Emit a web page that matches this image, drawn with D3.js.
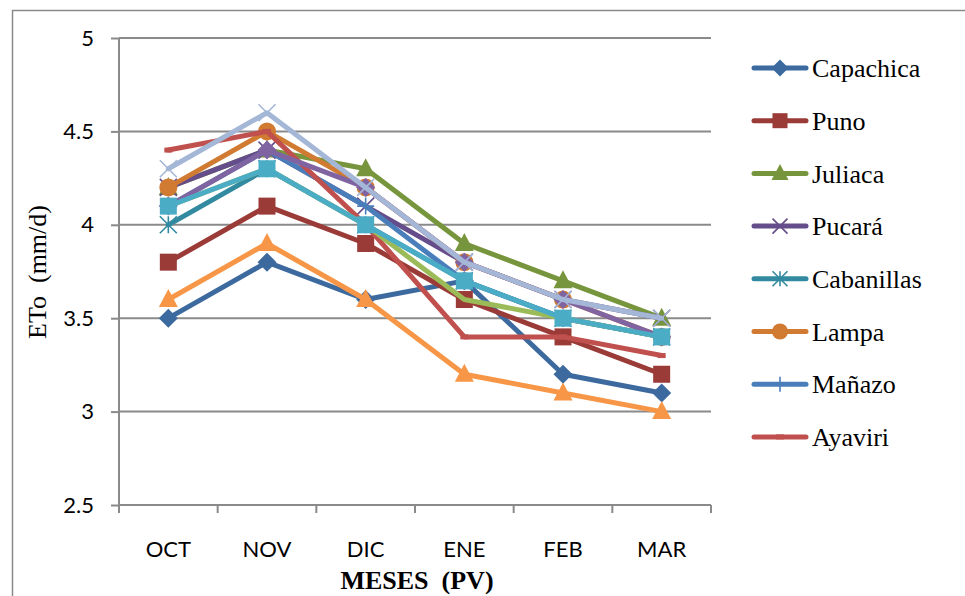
<!DOCTYPE html>
<html>
<head>
<meta charset="utf-8">
<script src="https://cdn.jsdelivr.net/npm/d3@7"></script>
<style>
  body { margin: 0; background: #fff; }
  svg { display: block; }
</style>
</head>
<body>
<script>
// DATA
var meses = ["OCT", "NOV", "DIC", "ENE", "FEB", "MAR"];
var yTicks = [2.5, 3, 3.5, 4, 4.5, 5];

var capachica  = [3.5, 3.8, 3.6, 3.7, 3.2, 3.1];
var puno       = [3.8, 4.1, 3.9, 3.6, 3.4, 3.2];
var juliaca    = [4.2, 4.4, 4.3, 3.9, 3.7, 3.5];
var pucara     = [4.2, 4.4, 4.1, 3.8, 3.6, 3.5];
var cabanillas = [4.0, 4.3, 4.0, 3.7, 3.5, 3.4];
var lampa      = [4.2, 4.5, 4.2, 3.8, 3.6, 3.4];
var manazo     = [4.1, 4.4, 4.1, 3.7, 3.5, 3.4];
var ayaviri    = [4.4, 4.5, 4.0, 3.4, 3.4, 3.3];
// series beyond the visible legend
var serie9     = [4.1, 4.3, 4.0, 3.6, 3.5, 3.4];
var serie10    = [4.1, 4.4, 4.2, 3.8, 3.6, 3.4];
var serie11    = [4.1, 4.3, 4.0, 3.7, 3.5, 3.4];
var serie12    = [3.6, 3.9, 3.6, 3.2, 3.1, 3.0];
var serie13    = [4.3, 4.6, 4.2, 3.8, 3.6, 3.5];

var series = [
  { name: "Capachica",  values: capachica,  color: "#3D6A9E", marker: "diamond",  legend: true },
  { name: "Puno",       values: puno,       color: "#9B3B38", marker: "square",   legend: true },
  { name: "Juliaca",    values: juliaca,    color: "#77953D", marker: "triangle", legend: true },
  { name: "Pucará",     values: pucara,     color: "#654C8A", marker: "x",        legend: true },
  { name: "Cabanillas", values: cabanillas, color: "#328AA0", marker: "star",     legend: true },
  { name: "Lampa",      values: lampa,      color: "#D07A32", marker: "circle",   legend: true },
  { name: "Mañazo",     values: manazo,     color: "#4A7EBB", marker: "plus",     legend: true },
  { name: "Ayaviri",    values: ayaviri,    color: "#C0504D", marker: "dash",     legend: true },
  { name: "Serie 9",    values: serie9,     color: "#9BBB59", marker: "none",     legend: false },
  { name: "Serie 10",   values: serie10,    color: "#8064A2", marker: "diamond",  legend: false },
  { name: "Serie 11",   values: serie11,    color: "#4BACC6", marker: "square",   legend: false },
  { name: "Serie 12",   values: serie12,    color: "#F79646", marker: "triangle", legend: false },
  { name: "Serie 13",   values: serie13,    color: "#A5B7D7", marker: "x",        legend: false }
];

// LAYOUT
var W = 965, H = 596;
var plot = { left: 119, right: 711, top: 38, bottom: 505 };
var gridColor = "#8a8a8a";
var sansFont = "Lato, 'Liberation Sans', sans-serif";
var serifFont = "'Liberation Serif', 'Times New Roman', serif";

var svg = d3.select("body").append("svg")
  .attr("width", W)
  .attr("height", H);

svg.append("rect")
  .attr("width", W).attr("height", H)
  .attr("fill", "#fff");

// outer chart border (cut off at right and bottom)
svg.append("rect")
  .attr("x", 12.5).attr("y", 10.5)
  .attr("width", W + 20).attr("height", H + 20)
  .attr("fill", "none")
  .attr("stroke", gridColor)
  .attr("stroke-width", 1.5);

var x = d3.scaleBand()
  .domain(meses)
  .range([plot.left, plot.right]);

var y = d3.scaleLinear()
  .domain([2.5, 5])
  .range([plot.bottom, plot.top]);

function cx(i) { return x(meses[i]) + x.bandwidth() / 2; }

// gridlines
svg.append("g")
  .selectAll("line")
  .data(yTicks.slice(1))
  .enter().append("line")
  .attr("x1", plot.left).attr("x2", plot.right)
  .attr("y1", function (d) { return y(d); })
  .attr("y2", function (d) { return y(d); })
  .attr("stroke", gridColor)
  .attr("stroke-width", 2);

// y axis
var yAxis = svg.append("g")
  .attr("transform", "translate(" + plot.left + ",0)")
  .call(d3.axisLeft(y).tickValues(yTicks).tickSize(8).tickPadding(17)
    .tickFormat(function (d) { return d; }));
yAxis.selectAll("path, line").attr("stroke", gridColor).attr("stroke-width", 2);
yAxis.select("path").attr("d", "M0," + plot.top + "V" + plot.bottom);
yAxis.selectAll("text")
  .attr("fill", "#000")
  .style("font-family", sansFont)
  .style("font-size", "22px");

// x axis
var xAxis = svg.append("g")
  .attr("transform", "translate(0," + plot.bottom + ")")
  .call(d3.axisBottom(x).tickSize(0).tickPadding(36));
xAxis.select("path").attr("d", "M" + plot.left + ",0H" + plot.right)
  .attr("stroke", gridColor).attr("stroke-width", 2);
xAxis.selectAll("text")
  .attr("fill", "#000")
  .style("font-family", sansFont)
  .style("font-size", "22px");
xAxis.selectAll(".boundary")
  .data(d3.range(meses.length + 1))
  .enter().append("line")
  .attr("class", "boundary")
  .attr("x1", function (i) { return plot.left + i * x.bandwidth(); })
  .attr("x2", function (i) { return plot.left + i * x.bandwidth(); })
  .attr("y1", 0).attr("y2", 8)
  .attr("stroke", gridColor)
  .attr("stroke-width", 2);

// axis titles
svg.append("text")
  .attr("transform", "translate(46,272) rotate(-90)")
  .attr("text-anchor", "middle")
  .style("font-family", serifFont)
  .style("font-size", "26px")
  .style("white-space", "pre")
  .text("ETo  (mm/d)");

svg.append("text")
  .attr("x", 417)
  .attr("y", 589)
  .attr("text-anchor", "middle")
  .style("font-family", serifFont)
  .style("font-size", "26px")
  .style("font-weight", "bold")
  .style("white-space", "pre")
  .text("MESES  (PV)");

// markers
function drawMarker(g, type, color, s) {
  var h = s / 2;
  if (type === "diamond") {
    g.append("path").attr("d", "M0," + (-h - 1) + "L" + (h + 1) + ",0L0," + (h + 1) + "L" + (-h - 1) + ",0Z")
      .attr("fill", color);
  } else if (type === "square") {
    g.append("rect").attr("x", -h).attr("y", -h).attr("width", s).attr("height", s)
      .attr("fill", color);
  } else if (type === "triangle") {
    g.append("path").attr("d", "M0," + (-h - 2) + "L" + (h + 1) + "," + (h - 1) + "L" + (-h - 1) + "," + (h - 1) + "Z")
      .attr("fill", color);
  } else if (type === "circle") {
    g.append("circle").attr("r", h + 0.5).attr("fill", color);
  } else if (type === "x" || type === "star" || type === "plus") {
    var p = "";
    if (type !== "plus") p += "M" + (-h) + "," + (-h) + "L" + h + "," + h + "M" + h + "," + (-h) + "L" + (-h) + "," + h;
    if (type !== "x") p += "M0," + (-h) + "V" + h;
    if (type === "plus") p += "M" + (-h) + ",0H" + h;
    g.append("path").attr("d", p).attr("stroke", color).attr("stroke-width", 1.6).attr("fill", "none");
  } else if (type === "dash") {
    g.append("path").attr("d", "M-4,0H4").attr("stroke", color).attr("stroke-width", 5);
  }
}

var line = d3.line()
  .x(function (d, i) { return cx(i); })
  .y(function (d) { return y(d); });

var seriesG = svg.append("g");
series.forEach(function (s) {
  var g = seriesG.append("g");
  g.append("path")
    .datum(s.values)
    .attr("d", line)
    .attr("fill", "none")
    .attr("stroke", s.color)
    .attr("stroke-width", 5)
    .attr("stroke-linejoin", "round")
    .attr("stroke-linecap", "round");
  s.values.forEach(function (v, i) {
    var m = g.append("g").attr("transform", "translate(" + cx(i) + "," + y(v) + ")");
    drawMarker(m, s.marker, s.color, 17);
  });
});

// legend (only the first 8 entries fit)
var legend = svg.append("g");
series.filter(function (s) { return s.legend; }).forEach(function (s, i) {
  var ly = 68 + i * 52.7;
  var g = legend.append("g").attr("transform", "translate(0," + ly + ")");
  g.append("line")
    .attr("x1", 754).attr("x2", 806)
    .attr("stroke", s.color)
    .attr("stroke-width", 5)
    .attr("stroke-linecap", "round");
  var m = g.append("g").attr("transform", "translate(780,0)");
  drawMarker(m, s.marker, s.color, 15);
  g.append("text")
    .attr("x", 812)
    .attr("y", 0)
    .attr("dy", "0.35em")
    .style("font-family", serifFont)
    .style("font-size", "26px")
    .text(s.name);
});
</script>
</body>
</html>
